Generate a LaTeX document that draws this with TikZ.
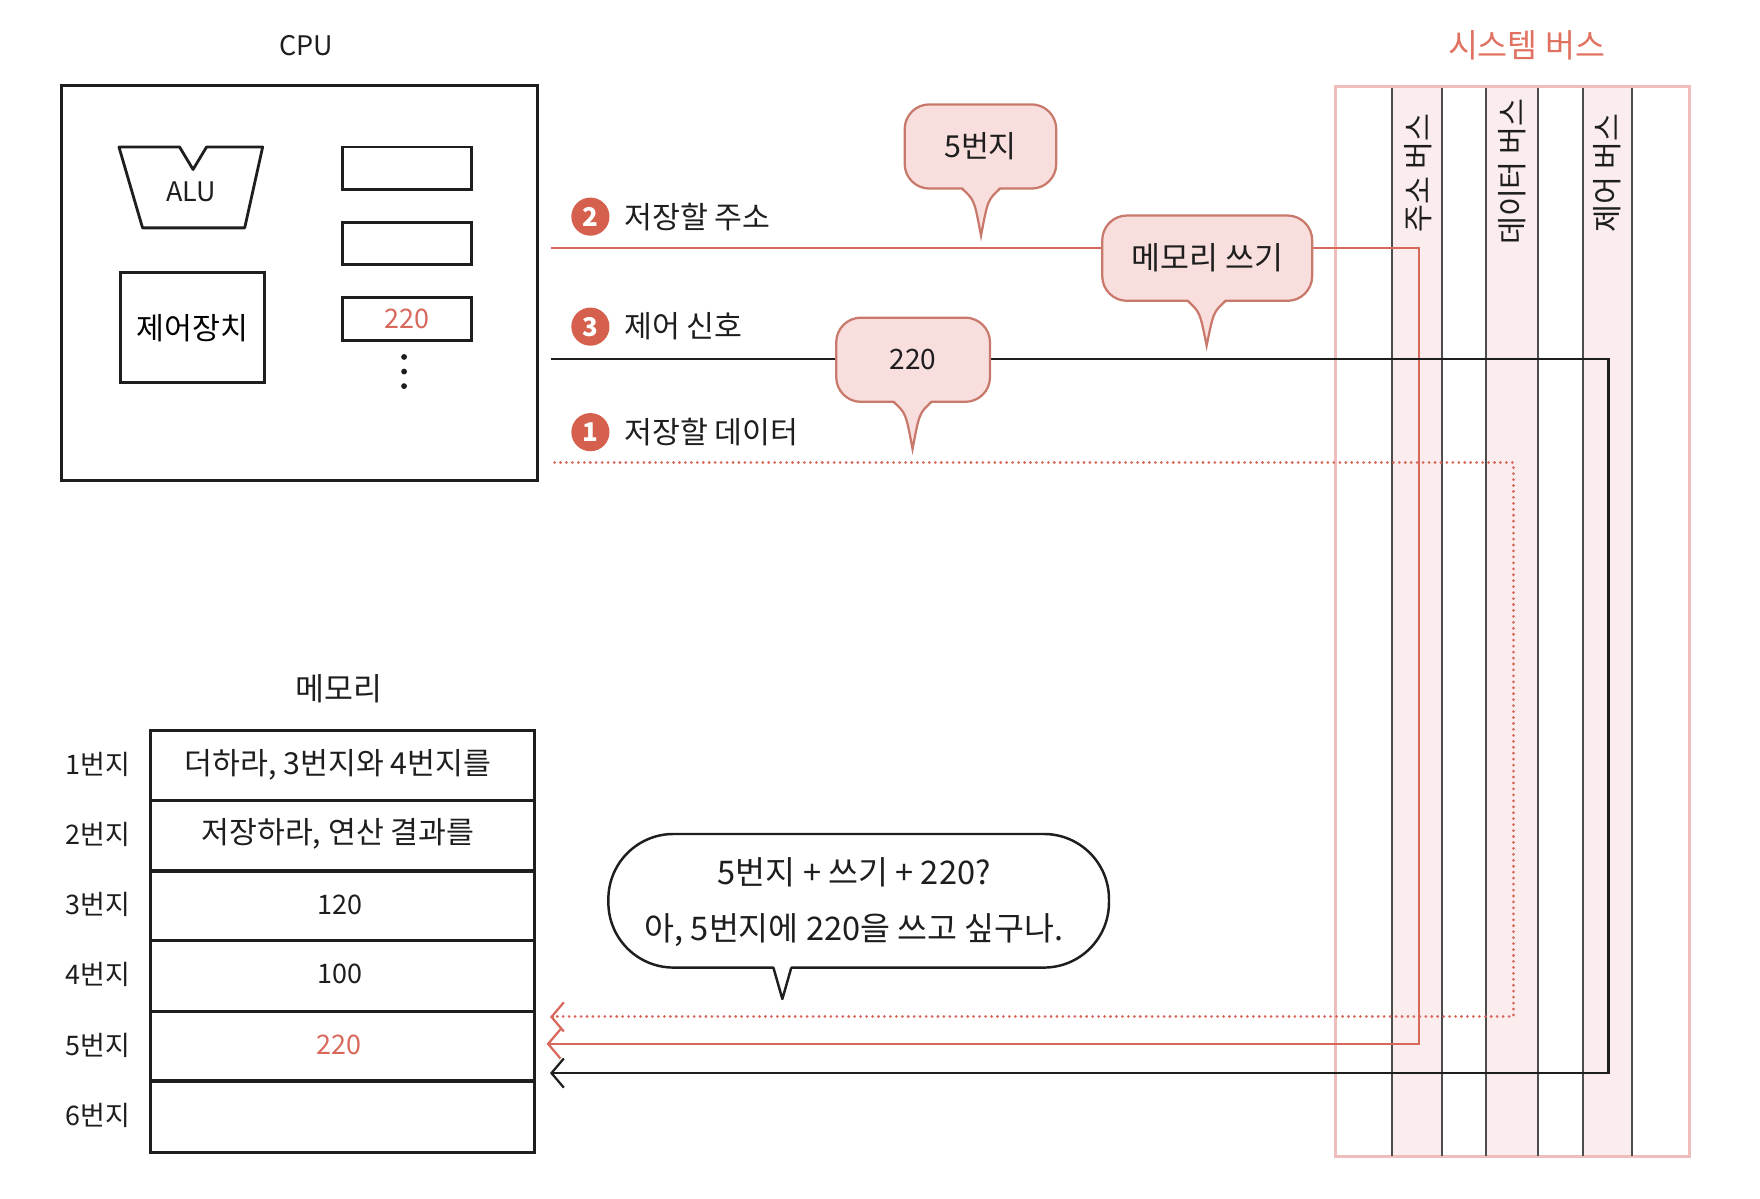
\documentclass[tikz,border=0pt]{standalone}
\usepackage{fontspec}
\setmainfont{Noto Sans CJK KR}
\usetikzlibrary{arrows.meta,calc}
\definecolor{accent}{HTML}{D6604E}
\definecolor{redline}{HTML}{D8685C}
\definecolor{bubfill}{HTML}{F9DEDE}
\definecolor{bubline}{HTML}{C9796C}
\definecolor{busfill}{HTML}{FBEDED}
\definecolor{busline}{HTML}{F0BDBD}
\definecolor{titlered}{HTML}{E0705F}
\definecolor{inkc}{HTML}{1E1E1E}
\begin{document}
\begin{tikzpicture}[x=1pt,y=-1pt,
  txt/.style={font=\fontsize{24}{28}\selectfont, inner sep=0pt, text=inkc},
  lbltxt/.style={font=\fontsize{27}{30}\selectfont, inner sep=0pt, text=inkc, anchor=west},
  bigtxt/.style={font=\fontsize{29}{32}\selectfont, inner sep=0pt, text=inkc},
  boxln/.style={draw=inkc, line width=2.8pt},
  regbox/.style={draw=inkc, line width=2.5pt, minimum width=115pt, minimum height=38pt, inner sep=0pt, font=\fontsize{24}{28}\selectfont},
  numc/.style={circle, fill=accent, minimum size=34pt, inner sep=0pt, text=white, font=\fontsize{23}{24}\selectfont\bfseries},
  bubnode/.style={draw=bubline, fill=bubfill, line width=2pt, rounded corners=22pt, inner sep=0pt, text=inkc},
  bubtail/.style={draw=bubline, line width=2pt},
  barb/.style={-{Straight Barb[length=11pt,width=26pt,line width=2pt]}},
  redln/.style={draw=redline, line width=2pt},
  blkln/.style={draw=inkc, line width=2.2pt},
  dotln/.style={draw=redline, line width=2.6pt, line cap=round, dash pattern=on 0.1pt off 5.2pt},
  strip/.style={fill=busfill},
  stripln/.style={draw=black!70, line width=2pt},
  cell/.style={font=\fontsize{27}{30}\selectfont, inner sep=0pt, text=inkc},
  addr/.style={font=\fontsize{24}{28}\selectfont, inner sep=0pt, anchor=east, text=inkc},
  buslbl/.style={font=\fontsize{27}{30}\selectfont, inner sep=0pt, rotate=90, text=inkc}
]
\useasboundingbox (0,0) rectangle (1568,1068);

% ---------- system bus ----------
\node[font=\fontsize{29}{32}\selectfont, text=titlered, inner sep=0pt] (bustitle) at (1360,40) {시스템 버스};
\fill[strip] (1240,77) rectangle (1285,1030);
\fill[strip] (1324,77) rectangle (1370,1030);
\fill[strip] (1410,77) rectangle (1454,1030);
\draw[draw=busline, line width=2.5pt] (1190,77) rectangle (1505,1030);
\foreach \xx in {1240,1285,1324,1370,1410,1454}
  \draw[stripln] (\xx,78) -- (\xx,1030);
\node[buslbl] (abus) at (1263,154) {주소 버스};
\node[buslbl] (dbus) at (1347,153) {데이터 버스};
\node[buslbl] (cbus) at (1432,154) {제어 버스};

% ---------- CPU ----------
\node[txt] (cpulbl) at (273,41) {CPU};
\draw[boxln] (55,76) rectangle (479,428);
\node (cpu) at (267,252) [minimum width=424pt, minimum height=352pt, inner sep=0pt] {};
\draw[draw=inkc, line width=2.5pt, line join=round]
  (106,131) -- (160,131) -- (172,151) -- (184,131) -- (234,131) -- (218,203) -- (127,203) -- cycle;
\node[txt] (alu) at (170,171) {ALU};
\node[draw=inkc, line width=2.8pt, minimum width=129pt, minimum height=98pt, inner sep=0pt,
      font=\fontsize{27}{30}\selectfont] (cu) at (171.5,292) {제어장치};
\node[regbox] (r1) at (362.5,150) {};
\node[regbox] (r2) at (362.5,217) {};
\node[regbox, text=redline] (r3) at (362.5,284) {220};
\fill[inkc] (360,318) circle (2.6pt) (360,331) circle (2.6pt) (360,344) circle (2.6pt);

% ---------- connectors ----------
\coordinate (aS) at (491,221);  \coordinate (aT) at (1264,221);
\coordinate (aB) at (1264,930); \coordinate (aE) at (487,930);
\coordinate (cS) at (491,320);  \coordinate (cT) at (1433,320);
\coordinate (cB) at (1433,956); \coordinate (cE) at (490,956);
\coordinate (dS) at (494,412);  \coordinate (dT) at (1348,412);
\coordinate (dB) at (1348,906); \coordinate (dE) at (490,906);
\draw[redln, barb] (aS) -- (aT) -- (aB) -- (aE);
\draw[blkln, barb] (cS) -- (cT) -- (cB) -- (cE);
\draw[dotln] (dS) -- (dT) -- (dB) -- ($(dE)+(6,0)$);
\draw[redln, -{Straight Barb[length=11pt,width=26pt,line width=2pt]}] ($(dE)+(3,0)$) -- (dE);

% ---------- labels ----------
\node[numc] (n2) at (526,193) {2};
\node[lbltxt] (l2) at (556,193) {저장할 주소};
\node[numc] (n3) at (526,291) {3};
\node[lbltxt] (l3) at (556,291) {제어 신호};
\node[numc] (n1) at (526,385) {1};
\node[lbltxt] (l1) at (556,385) {저장할 데이터};

% ---------- bubbles ----------
\node[bubnode, minimum width=135pt, minimum height=75pt, font=\fontsize{27}{30}\selectfont] (b5) at (873.5,130.5) {5번지};
\fill[bubfill] (857,166) .. controls (868,178) .. (874,210) .. controls (880,178) .. (891,166) -- cycle;
\draw[bubtail] (857,168) .. controls (868,178) .. (874,210) .. controls (880,178) .. (891,168);

\node[bubnode, minimum width=187pt, minimum height=76pt, font=\fontsize{28}{30}\selectfont] (bw) at (1075.5,230) {메모리 쓰기};
\fill[bubfill] (1058,266) .. controls (1069,278) .. (1075,308) .. controls (1081,278) .. (1092,266) -- cycle;
\draw[bubtail] (1058,268) .. controls (1069,278) .. (1075,308) .. controls (1081,278) .. (1092,268);

\node[bubnode, minimum width=137pt, minimum height=75pt, font=\fontsize{25}{28}\selectfont] (bd) at (813.5,320.5) {220};
\fill[bubfill] (796,356) .. controls (807,368) .. (813,400) .. controls (819,368) .. (830,356) -- cycle;
\draw[bubtail] (796,358) .. controls (807,368) .. (813,400) .. controls (819,368) .. (830,358);

% ---------- memory ----------
\node[font=\fontsize{28}{30}\selectfont, inner sep=0pt, text=inkc] (memlbl) at (302,614) {메모리};
\draw[boxln] (134,651) rectangle (476,1027);
\foreach \yy in {713,776,838,901,963}
  \draw[boxln] (134,\yy) -- (476,\yy);
\node (mem) at (305,839) [minimum width=342pt, minimum height=376pt, inner sep=0pt] {};
\node[cell] (m1) at (301,681) {더하라, 3번지와 4번지를};
\node[cell] (m2) at (301,743) {저장하라, 연산 결과를};
\node[cell, font=\fontsize{24}{28}\selectfont] (m3) at (303,806) {120};
\node[cell, font=\fontsize{24}{28}\selectfont] (m4) at (303,868) {100};
\node[cell, font=\fontsize{24}{28}\selectfont, text=redline] (m5) at (302,931) {220};
\node[addr] (a1) at (116,681) {1번지};
\node[addr] (a2) at (116,743) {2번지};
\node[addr] (a3) at (116,806) {3번지};
\node[addr] (a4) at (116,868) {4번지};
\node[addr] (a5) at (116,931) {5번지};
\node[addr] (a6) at (116,994) {6번지};

% ---------- speech bubble ----------
\node[draw=inkc, fill=white, line width=2.2pt, rounded corners=58pt, minimum width=446pt,
      minimum height=119pt, inner sep=0pt] (say) at (765,802.5) {};
\fill[white] (689,860) -- (697,890) -- (705,860) -- cycle;
\draw[draw=inkc, line width=2.2pt, line join=round] (689,862) -- (697,890) -- (705,862);
\node[bigtxt] (say1) at (761,777) {5번지 + 쓰기 + 220?};
\node[bigtxt] (say2) at (761,829) {아, 5번지에 220을 쓰고 싶구나.};
\end{tikzpicture}
\end{document}
